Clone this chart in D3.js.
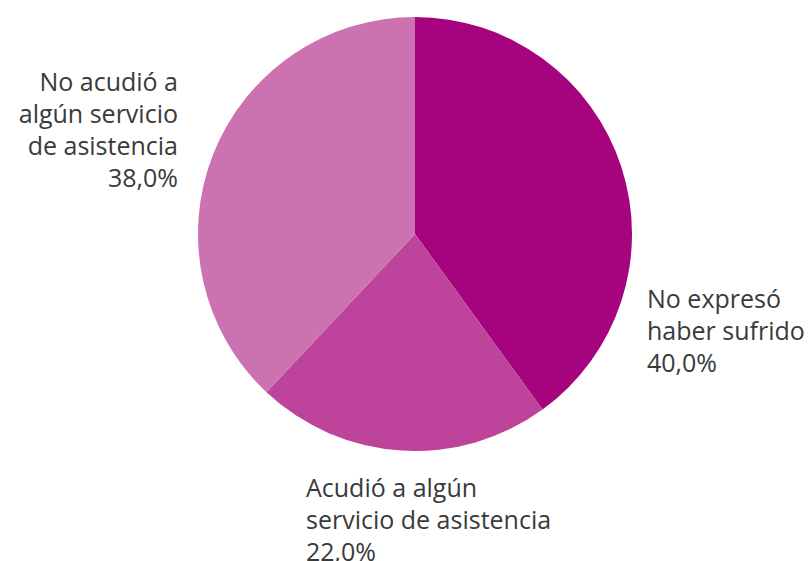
<!DOCTYPE html>
<html>
<head>
<meta charset="utf-8">
<script src="https://cdn.jsdelivr.net/npm/d3@7"></script>
<style>
  html, body { margin: 0; padding: 0; background: #ffffff; }
  svg { display: block; }
</style>
</head>
<body>
<div id="chart"></div>
<script>
// 数据
const categories = [
  'No expresó haber sufrido',
  'Acudió a algún servicio de asistencia',
  'No acudió a algún servicio de asistencia'
];
const values = [40.0, 22.0, 38.0];
// 标签换行
const labelLines = [
  ['No expresó', 'haber sufrido'],
  ['Acudió a algún', 'servicio de asistencia'],
  ['No acudió a', 'algún servicio', 'de asistencia']
];

const width = 809, height = 561;
const cx = 415, cy = 234, radius = 217;
const colors = ['#a6037e', '#be449b', '#cc72b0'];

// 标签布局（首行基线位置与对齐方式）
const labelLayout = [
  { x: 647, y: 308, anchor: 'start' },
  { x: 306, y: 497, anchor: 'start' },
  { x: 178, y: 91, anchor: 'end' }
];
const lineHeight = 32;
const fmt = v => d3.format('.1f')(v).replace('.', ',') + '%';

const svg = d3.select('#chart')
  .append('svg')
  .attr('width', width)
  .attr('height', height)
  .attr('viewBox', `0 0 ${width} ${height}`);

svg.append('rect')
  .attr('width', width)
  .attr('height', height)
  .attr('fill', '#ffffff');

const pie = d3.pie().sort(null).value(d => d);
const arc = d3.arc().innerRadius(0).outerRadius(radius);

const g = svg.append('g')
  .attr('transform', `translate(${cx},${cy})`);

g.selectAll('path')
  .data(pie(values))
  .join('path')
  .attr('d', arc)
  .attr('fill', (d, i) => colors[i]);

// 标签
const labels = svg.append('g')
  .attr('font-family', '"Open Sans", sans-serif')
  .attr('font-size', 25)
  .attr('fill', '#3a3a3a');

categories.forEach((c, i) => {
  const L = labelLayout[i];
  const t = labels.append('text')
    .attr('x', L.x)
    .attr('y', L.y)
    .attr('text-anchor', L.anchor);
  const lines = labelLines[i].concat([fmt(values[i])]);
  lines.forEach((s, j) => {
    t.append('tspan')
      .attr('x', L.x)
      .attr('dy', j === 0 ? 0 : lineHeight)
      .text(s);
  });
});
</script>
</body>
</html>
